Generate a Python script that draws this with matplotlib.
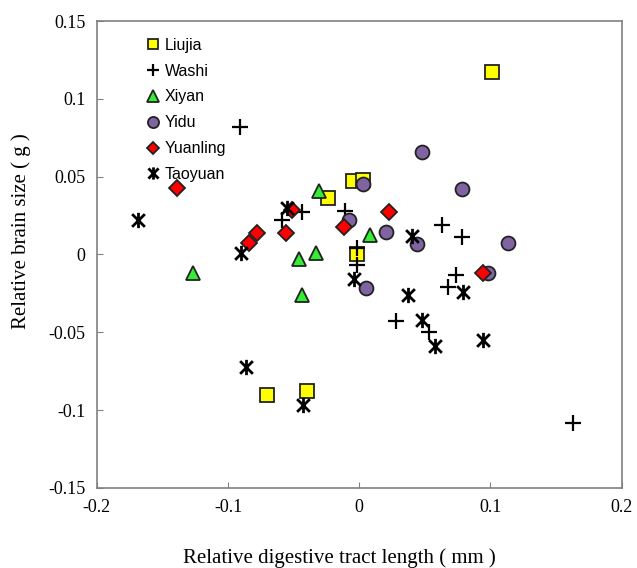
import numpy as np
import matplotlib.pyplot as plt
from matplotlib.path import Path

# Data
liujia_x = [0.101, -0.005, 0.003, -0.024, -0.002, -0.070, -0.040]
liujia_y = [0.117, 0.047, 0.048, 0.036, 0.000, -0.090, -0.088]

washi_x = [-0.091, 0.163, -0.011, -0.044, -0.059, -0.002, -0.002, 0.063, 0.078, 0.074, 0.068, 0.028, 0.053]
washi_y = [0.082, -0.108, 0.028, 0.027, 0.022, 0.004, -0.007, 0.019, 0.011, -0.013, -0.021, -0.043, -0.050]

xiyan_x = [-0.127, -0.031, 0.008, -0.033, -0.046, -0.044]
xiyan_y = [-0.012, 0.041, 0.0125, 0.001, -0.003, -0.026]

yidu_x = [0.048, 0.078, 0.003, -0.008, 0.020, 0.044, 0.113, 0.098, 0.005]
yidu_y = [0.066, 0.042, 0.045, 0.022, 0.0145, 0.007, 0.0075, -0.012, -0.0215]

yuanling_x = [-0.139, -0.051, -0.078, -0.084, -0.056, -0.012, 0.023, 0.094]
yuanling_y = [0.043, 0.0286, 0.0138, 0.0074, 0.0138, 0.0176, 0.027, -0.012]

taoyuan_x = [-0.169, -0.090, -0.055, 0.040, -0.004, 0.037, 0.079, -0.086, -0.043, 0.048, 0.058, 0.094]
taoyuan_y = [0.022, 0.001, 0.030, 0.012, -0.016, -0.026, -0.024, -0.072, -0.097, -0.042, -0.059, -0.055]

# Excel-style star marker: an X with a vertical bar
star = Path([(-1, -1), (1, 1), (-1, 1), (1, -1), (0, -1.2), (0, 1.2)],
            [Path.MOVETO, Path.LINETO, Path.MOVETO, Path.LINETO, Path.MOVETO, Path.LINETO])

fig = plt.figure(figsize=(6.37, 5.68), dpi=100)
ax = fig.add_axes([0.152, 0.141, 0.824, 0.822])

ax.plot(liujia_x, liujia_y, 's', ms=9.5, mfc='#FFFF00', mec='#222222', mew=1.3, ls='none', label='Liujia')
ax.plot(washi_x, washi_y, '+', ms=11, color='black', mew=1.6, ls='none', label='Washi')
ax.plot(xiyan_x, xiyan_y, '^', ms=10, mfc='#33EE33', mec='#222222', mew=1.3, ls='none', label='Xiyan')
ax.plot(yidu_x, yidu_y, 'o', ms=10, mfc='#8064A2', mec='#222222', mew=1.3, ls='none', label='Yidu')
ax.plot(yuanling_x, yuanling_y, 'D', ms=8, mfc='#FF0000', mec='#222222', mew=1.3, ls='none', label='Yuanling')
ax.plot(taoyuan_x, taoyuan_y, marker=star, ms=11, color='black', mew=2.0, ls='none', label='Taoyuan')

ax.set_xlim(-0.2, 0.2)
ax.set_ylim(-0.15, 0.15)
ax.set_xticks([-0.2, -0.1, 0, 0.1, 0.2])
ax.set_xticklabels(['-0.2', '-0.1', '0', '0.1', '0.2'])
ax.set_yticks([-0.15, -0.1, -0.05, 0, 0.05, 0.1, 0.15])
ax.set_yticklabels(['-0.15', '-0.1', '-0.05', '0', '0.05', '0.1', '0.15'])
ax.tick_params(direction='in', length=4, color='#808080', labelsize=13, pad=8)
for lab in ax.get_xticklabels() + ax.get_yticklabels():
    lab.set_fontfamily('Liberation Serif')
for s in ax.spines.values():
    s.set_color('#808080')
    s.set_linewidth(1.2)

ax.set_xlabel('Relative digestive tract length ( mm )', family='Liberation Serif', fontsize=15)
ax.set_ylabel('Relative brain size ( g )', family='Liberation Serif', fontsize=15)
ax.xaxis.set_label_coords(0.463, -0.13)
ax.yaxis.set_label_coords(-0.125, 0.55)

ax.legend(loc='upper left', bbox_to_anchor=(0.065, 0.995), frameon=False, handlelength=1.0,
          handletextpad=0.2, labelspacing=0.68, prop={'family': 'Liberation Sans', 'size': 11.5},
          markerscale=0.8)

plt.savefig('out.png', dpi=100)
